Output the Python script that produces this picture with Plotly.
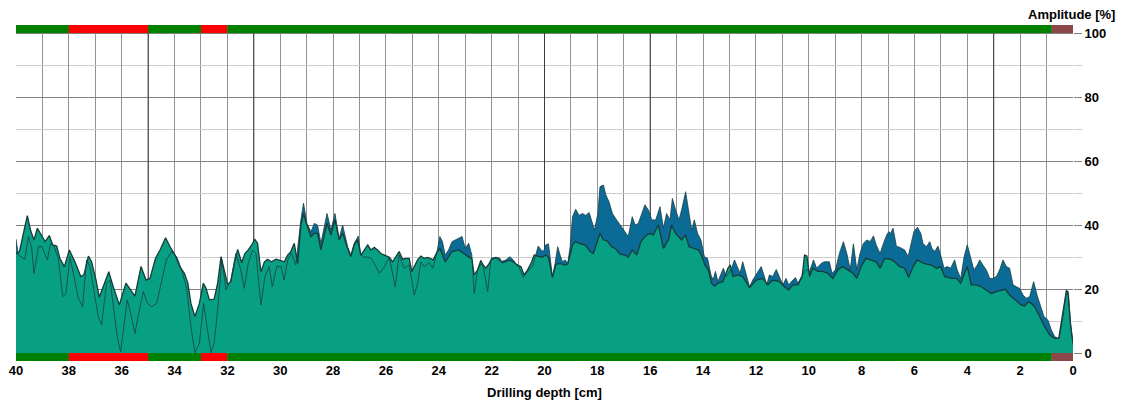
import plotly.graph_objects as go

# Curve A (upper amplitude curve, blue fill)
depth_a = [
    40.00, 39.91, 39.78, 39.66, 39.53, 39.41, 39.32, 39.15, 39.03, 38.90,
    38.81, 38.69, 38.56, 38.40, 38.23, 38.11, 37.96, 37.83, 37.64, 37.48,
    37.33, 37.20, 37.05, 36.89, 36.76, 36.57, 36.44, 36.29, 36.17, 36.04,
    35.91, 35.79, 35.66, 35.50, 35.33, 35.18, 35.03, 34.87, 34.68, 34.49,
    34.31, 34.11, 33.92, 33.73, 33.54, 33.38, 33.23, 33.06, 32.90, 32.77,
    32.62, 32.50, 32.37, 32.21, 32.05, 31.87, 31.68, 31.49, 31.36, 31.21,
    31.05, 30.92, 30.73, 30.58, 30.42, 30.30, 30.13, 29.97, 29.85, 29.72,
    29.57, 29.41, 29.22, 29.12, 28.99, 28.84, 28.71, 28.59, 28.46, 28.23,
    28.08, 27.93, 27.77, 27.64, 27.45, 27.33, 27.20, 27.05, 26.95, 26.82,
    26.69, 26.57, 26.44, 26.25, 26.06, 25.87, 25.65, 25.50, 25.31, 25.12,
    25.02, 24.93, 24.80, 24.68, 24.55, 24.36, 24.23, 24.08, 23.96, 23.86,
    23.76, 23.63, 23.50, 23.38, 23.25, 23.12, 23.00, 22.87, 22.75, 22.66,
    22.53, 22.41, 22.32, 22.15, 22.03, 21.84, 21.65, 21.46, 21.31, 21.18,
    21.06, 20.98, 20.80, 20.64, 20.45, 20.33, 20.24, 20.13, 20.04, 19.95,
    19.85, 19.79, 19.70, 19.60, 19.50, 19.41, 19.32, 19.22, 19.12, 19.03,
    18.94, 18.82, 18.69, 18.56, 18.44, 18.31, 18.21, 18.11, 17.98, 17.90,
    17.77, 17.68, 17.56, 17.43, 17.27, 17.10, 16.95, 16.83, 16.68, 16.57,
    16.45, 16.32, 16.20, 16.07, 15.94, 15.79, 15.63, 15.50, 15.38, 15.25,
    15.16, 15.04, 14.91, 14.81, 14.66, 14.53, 14.43, 14.33, 14.21, 14.08,
    13.95, 13.83, 13.70, 13.62, 13.53, 13.44, 13.32, 13.23, 13.13, 13.03,
    12.94, 12.81, 12.68, 12.60, 12.50, 12.37, 12.24, 12.12, 11.97, 11.80,
    11.68, 11.59, 11.49, 11.36, 11.23, 11.11, 10.98, 10.86, 10.76, 10.60,
    10.50, 10.41, 10.29, 10.20, 10.07, 9.97, 9.82, 9.70, 9.53, 9.41,
    9.22, 9.12, 8.99, 8.84, 8.69, 8.56, 8.43, 8.31, 8.18, 8.06,
    7.93, 7.80, 7.68, 7.55, 7.45, 7.30, 7.17, 7.05, 6.97, 6.90,
    6.81, 6.68, 6.60, 6.47, 6.37, 6.24, 6.12, 6.02, 5.89, 5.76,
    5.68, 5.55, 5.42, 5.34, 5.23, 5.11, 5.01, 4.88, 4.76, 4.63,
    4.48, 4.38, 4.25, 4.12, 4.00, 3.87, 3.75, 3.62, 3.53, 3.41,
    3.28, 3.15, 3.03, 2.90, 2.78, 2.65, 2.52, 2.40, 2.27, 2.14,
    2.02, 1.89, 1.77, 1.64, 1.49, 1.36, 1.24, 1.10, 0.95, 0.82,
    0.69, 0.57, 0.51, 0.38, 0.25, 0.17, 0.09, 0.00,
]
amp_a = [
    35.6, 30.6, 29.9, 29.3, 36.4, 33.2, 24.9, 33.2, 33.4, 30.6,
    29.1, 34.3, 33.2, 29.6, 17.6, 18.6, 30.1, 24.9, 17.1, 14.5,
    29.1, 27.0, 19.2, 11.4, 8.8, 21.8, 22.8, 12.4, 5.1, 0.4,
    8.2, 16.6, 12.4, 6.1, 13.4, 19.2, 15.5, 14.5, 15.5, 22.8,
    29.1, 31.7, 30.1, 25.9, 20.2, 8.2, 0.1, 3.0, 15.5, 8.2,
    0.1, 3.0, 13.4, 29.1, 19.7, 22.8, 31.1, 25.9, 20.2, 28.0,
    32.2, 31.1, 15.0, 23.9, 27.0, 20.7, 27.0, 27.0, 22.8, 29.1,
    31.1, 27.5, 41.6, 46.8, 40.5, 37.9, 40.5, 40.0, 34.3, 43.6,
    38.4, 43.6, 35.8, 40.0, 33.2, 30.6, 34.3, 36.5, 30.6, 29.9,
    30.0, 29.6, 28.0, 24.9, 27.0, 29.9, 20.7, 30.6, 26.5, 27.5,
    22.8, 18.1, 21.8, 28.5, 27.0, 28.2, 26.5, 31.1, 36.4, 34.8,
    30.6, 32.2, 34.8, 35.3, 35.8, 36.4, 32.7, 34.3, 30.6, 18.6,
    26.0, 27.9, 27.0, 19.2, 29.1, 29.6, 28.5, 29.1, 30.1, 29.1,
    27.5, 27.0, 23.6, 25.5, 27.0, 30.6, 33.4, 32.2, 31.7, 33.8,
    34.1, 30.1, 23.9, 28.0, 33.2, 30.6, 28.5, 29.1, 28.0, 33.2,
    42.6, 44.9, 43.0, 43.6, 43.0, 43.9, 41.0, 38.4, 43.6, 52.0,
    52.5, 49.4, 47.3, 43.6, 41.6, 39.5, 37.9, 36.4, 42.6, 40.0,
    40.5, 43.6, 46.3, 44.7, 41.6, 41.6, 45.7, 39.0, 43.6, 41.6,
    48.3, 44.7, 41.6, 44.7, 50.4, 43.6, 38.4, 41.6, 37.4, 35.3,
    30.1, 29.6, 24.4, 22.8, 25.5, 22.3, 24.4, 26.5, 23.9, 25.0,
    26.0, 29.1, 26.5, 24.9, 28.5, 24.4, 20.7, 22.8, 24.9, 27.0,
    23.9, 21.3, 24.4, 23.9, 26.1, 23.9, 21.3, 23.3, 21.3, 22.8,
    23.6, 21.8, 23.9, 25.0, 26.0, 25.5, 29.1, 26.5, 28.0, 28.5,
    28.5, 24.9, 26.0, 31.1, 34.8, 31.1, 26.0, 34.1, 26.0, 31.1,
    34.3, 35.3, 34.8, 36.6, 33.8, 31.1, 34.3, 36.9, 37.9, 37.4,
    39.0, 33.2, 33.2, 32.7, 32.2, 30.1, 34.8, 37.9, 39.3, 37.4,
    34.3, 33.2, 34.8, 32.7, 31.7, 33.4, 30.6, 26.5, 27.0, 26.5,
    29.1, 25.9, 23.3, 30.1, 33.8, 30.1, 25.9, 27.5, 29.1, 27.5,
    25.9, 23.3, 23.3, 23.9, 25.9, 29.1, 27.0, 26.5, 21.3, 20.7,
    20.2, 18.1, 17.1, 17.6, 22.3, 18.1, 15.0, 11.4, 10.3, 7.2,
    5.1, 4.6, 5.1, 11.4, 19.2, 18.1, 9.3, 2.5,
]

# Curve B (second amplitude curve, teal fill)
depth_b = [
    40.00, 39.87, 39.72, 39.57, 39.45, 39.32, 39.19, 39.03, 38.90, 38.74,
    38.61, 38.46, 38.34, 38.17, 37.98, 37.77, 37.55, 37.43, 37.26, 37.14,
    36.97, 36.85, 36.67, 36.49, 36.32, 36.09, 35.84, 35.69, 35.50, 35.27,
    35.08, 34.93, 34.72, 34.55, 34.34, 34.17, 33.98, 33.80, 33.63, 33.50,
    33.38, 33.23, 33.06, 32.91, 32.81, 32.68, 32.50, 32.37, 32.24, 32.12,
    31.99, 31.87, 31.74, 31.61, 31.46, 31.34, 31.21, 31.08, 30.96, 30.86,
    30.73, 30.60, 30.48, 30.33, 30.16, 29.97, 29.85, 29.72, 29.60, 29.47,
    29.34, 29.22, 29.12, 28.99, 28.84, 28.71, 28.59, 28.46, 28.23, 28.08,
    27.93, 27.77, 27.64, 27.45, 27.33, 27.20, 27.07, 26.95, 26.82, 26.69,
    26.57, 26.44, 26.32, 26.19, 26.06, 25.87, 25.75, 25.62, 25.50, 25.37,
    25.24, 25.12, 25.02, 24.93, 24.80, 24.68, 24.55, 24.42, 24.30, 24.21,
    24.08, 23.96, 23.76, 23.50, 23.25, 23.00, 22.85, 22.75, 22.66, 22.53,
    22.41, 22.32, 22.22, 22.09, 21.99, 21.84, 21.71, 21.59, 21.46, 21.31,
    21.18, 21.06, 20.89, 20.77, 20.64, 20.51, 20.39, 20.23, 20.10, 19.95,
    19.85, 19.70, 19.57, 19.41, 19.22, 19.12, 18.94, 18.82, 18.65, 18.46,
    18.27, 18.15, 17.98, 17.90, 17.77, 17.64, 17.46, 17.33, 17.14, 16.95,
    16.83, 16.68, 16.51, 16.35, 16.20, 16.01, 15.88, 15.69, 15.50, 15.31,
    15.19, 15.04, 14.81, 14.66, 14.53, 14.33, 14.18, 14.06, 13.93, 13.80,
    13.68, 13.57, 13.44, 13.25, 13.06, 12.97, 12.87, 12.68, 12.50, 12.24,
    11.99, 11.74, 11.55, 11.36, 11.11, 10.92, 10.76, 10.60, 10.41, 10.25,
    10.16, 10.07, 9.97, 9.85, 9.66, 9.47, 9.28, 9.09, 8.90, 8.71,
    8.52, 8.33, 8.18, 8.02, 7.83, 7.64, 7.45, 7.30, 7.14, 6.95,
    6.75, 6.56, 6.37, 6.22, 6.05, 5.89, 5.71, 5.55, 5.36, 5.17,
    5.01, 4.86, 4.60, 4.41, 4.25, 4.10, 4.00, 3.85, 3.66, 3.47,
    3.28, 3.09, 2.90, 2.71, 2.56, 2.40, 2.27, 2.14, 1.96, 1.83,
    1.70, 1.58, 1.45, 1.26, 1.07, 0.88, 0.69, 0.54, 0.38, 0.25,
    0.19, 0.10, 0.00,
]
amp_b = [
    31.0, 31.7, 37.4, 42.9, 38.4, 35.3, 39.0, 36.9, 34.8, 36.7,
    33.8, 33.4, 29.6, 27.0, 32.2, 28.5, 23.9, 24.4, 30.3, 28.5,
    22.8, 17.4, 21.3, 25.4, 20.7, 15.0, 21.8, 20.2, 17.8, 27.0,
    22.8, 23.3, 29.6, 32.2, 36.0, 33.2, 30.6, 27.0, 24.9, 22.0,
    15.5, 11.4, 15.5, 21.8, 20.2, 16.6, 16.8, 21.8, 30.1, 25.9,
    21.5, 22.3, 28.0, 32.4, 28.2, 31.1, 32.2, 33.8, 35.5, 34.3,
    25.4, 28.5, 29.3, 28.5, 29.3, 28.9, 28.5, 30.6, 31.7, 34.3,
    28.0, 40.0, 43.6, 40.0, 36.4, 37.4, 37.4, 32.2, 40.5, 36.9,
    41.6, 35.3, 37.4, 32.7, 30.1, 33.8, 35.3, 30.6, 32.4, 33.8,
    32.2, 33.0, 32.2, 31.1, 30.6, 29.9, 28.5, 30.1, 31.7, 29.3,
    29.6, 29.6, 25.4, 27.0, 29.1, 30.3, 29.6, 29.9, 29.3, 29.1,
    31.4, 32.7, 28.5, 31.7, 32.2, 30.6, 29.9, 29.5, 24.4, 26.0,
    28.9, 27.5, 26.5, 28.0, 29.6, 29.9, 29.6, 28.2, 28.5, 29.0,
    28.5, 27.7, 27.0, 24.4, 26.0, 28.0, 30.6, 30.3, 29.9, 30.6,
    29.9, 23.6, 27.7, 28.0, 27.5, 27.8, 33.8, 34.8, 34.1, 33.8,
    31.7, 31.1, 35.3, 37.4, 35.3, 35.1, 33.2, 32.7, 30.9, 30.6,
    30.0, 32.2, 30.6, 34.8, 36.4, 37.4, 36.9, 40.0, 32.7, 35.3,
    40.0, 37.4, 35.3, 36.9, 33.2, 32.7, 32.2, 30.6, 27.5, 26.0,
    21.8, 20.9, 21.8, 22.3, 26.5, 27.5, 23.9, 24.4, 23.9, 20.4,
    22.8, 23.3, 21.3, 22.8, 22.3, 20.7, 19.7, 21.3, 21.3, 23.9,
    30.6, 30.3, 23.9, 26.5, 25.5, 25.5, 24.9, 23.3, 26.0, 27.0,
    26.0, 24.9, 23.3, 27.0, 29.6, 29.1, 28.5, 26.5, 29.4, 29.5,
    28.5, 27.0, 26.5, 23.6, 27.0, 29.1, 28.2, 27.8, 27.5, 26.5,
    27.0, 23.9, 23.3, 23.3, 21.8, 24.9, 27.0, 21.3, 21.3, 20.7,
    19.7, 18.6, 19.2, 19.7, 19.9, 18.1, 17.1, 16.4, 15.0, 14.7,
    16.0, 15.5, 14.5, 11.4, 8.2, 5.6, 4.6, 4.6, 12.4, 19.5,
    19.2, 9.3, 3.0,
]

# Status bands along the depth axis (drawn at top and bottom of the plot)
band_start = [40.0, 38.0, 35.0, 33.0, 32.0, 0.8]
band_end = [38.0, 35.0, 33.0, 32.0, 0.8, 0.0]
band_state = ["ok", "warn", "ok", "warn", "ok", "end"]

# Depths marked with a darker vertical line
marker_depths = [35, 31, 20, 16, 3]

y_ticks = [0, 20, 40, 60, 80, 100]
y_minor = [10, 30, 50, 70, 90]

assert len(depth_a) == len(amp_a)
assert len(depth_b) == len(amp_b)

STATE_COLOR = {"ok": "#008000", "warn": "#FF0000", "end": "#8C4848"}
FONT = "Liberation Sans, Arial, sans-serif"
BAND_H = 2.5

fig = go.Figure()
fig.add_trace(go.Scatter(
    x=depth_a, y=amp_a, mode="lines", fill="tozeroy",
    fillcolor="#0B6B97", line=dict(width=0), hoverinfo="skip",
))
fig.add_trace(go.Scatter(
    x=depth_b, y=amp_b, mode="lines", fill="tozeroy",
    fillcolor="#07A085", line=dict(color="#163C38", width=1.3),
))
fig.add_trace(go.Scatter(
    x=depth_a, y=amp_a, mode="lines",
    line=dict(color="#1C3E42", width=0.8),
))

shapes = []
for s, e, st in zip(band_start, band_end, band_state):
    for y0, y1 in ((100, 100 + BAND_H), (-BAND_H, 0)):
        shapes.append(dict(
            type="rect", xref="x", yref="y", x0=s, x1=e, y0=y0, y1=y1,
            fillcolor=STATE_COLOR[st], line=dict(width=0), layer="above",
        ))
for d in marker_depths:
    shapes.append(dict(
        type="line", xref="x", yref="y", x0=d, x1=d, y0=0, y1=100,
        line=dict(color="#3A3A3A", width=1), layer="between",
    ))

fig.update_layout(
    width=1125, height=406,
    margin=dict(l=16, r=52, t=25, b=45, autoexpand=False),
    paper_bgcolor="white", plot_bgcolor="white",
    showlegend=False,
    shapes=shapes,
    font=dict(family=FONT, size=13, color="black"),
    xaxis=dict(
        range=[40, 0], tickmode="linear", tick0=0, dtick=2,
        showgrid=True, gridcolor="#939393", gridwidth=1,
        minor=dict(dtick=1, showgrid=True, gridcolor="#939393", gridwidth=1),
        ticks="", zeroline=False, showline=False, automargin=False,
        tickfont=dict(family=FONT, size=13, color="black", weight="bold"),
    ),
    yaxis=dict(
        range=[-BAND_H, 100 + BAND_H], side="right",
        tickmode="array", tickvals=y_ticks,
        ticks="outside", ticklen=8, tickcolor="#808080",
        showgrid=True, gridcolor="#808080", gridwidth=1,
        minor=dict(tickvals=y_minor, showgrid=True, gridcolor="#CCCCCC",
                   ticks="outside", ticklen=8, tickcolor="#CCCCCC"),
        zeroline=False, showline=False, automargin=False,
        tickfont=dict(family=FONT, size=13, color="black", weight="bold"),
    ),
    annotations=[
        dict(text="Amplitude [%]", xref="paper", yref="paper",
             x=1.0416, y=1.0298, xanchor="right", yanchor="middle",
             showarrow=False,
             font=dict(family=FONT, size=13, color="black", weight="bold")),
        dict(text="Drilling depth [cm]", xref="paper", yref="paper",
             x=0.5, y=-0.0923, xanchor="center", yanchor="middle",
             showarrow=False,
             font=dict(family=FONT, size=13, color="black", weight="bold")),
    ],
)

fig.write_html("out.html")
